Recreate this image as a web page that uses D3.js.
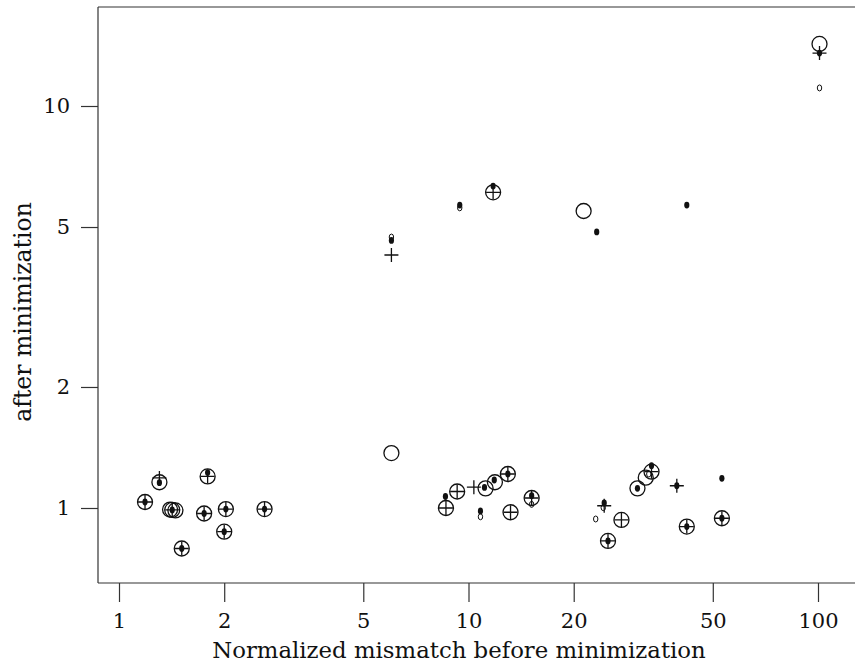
<!DOCTYPE html>
<html>
<head>
<meta charset="utf-8">
<script src="https://cdn.jsdelivr.net/npm/d3@7"></script>
<style>
  body { margin: 0; background: #fff; }
  text { font-family: "DejaVu Serif", serif; fill: #111; }
</style>
</head>
<body>
<div id="chart"></div>
<script>
// x = normalized mismatch before minimization, y = after minimization
let circlePts = [[1.187, 1.035], [1.305, 1.159], [1.40, 0.991], [1.42, 0.989], [1.45, 0.986],
    [1.512, 0.793], [1.752, 0.969], [1.793, 1.198], [2.0, 0.873], [2.022, 0.994], [2.609, 0.994],
    [6.018, 1.37], [8.62, 1.0], [9.28, 1.099], [11.19, 1.119], [11.76, 6.10], [11.90, 1.159],
    [12.96, 1.215], [13.19, 0.976], [15.16, 1.059], [21.35, 5.48], [25.07, 0.828], [27.39, 0.934],
    [30.44, 1.119], [32.15, 1.190], [33.39, 1.231], [42.13, 0.899], [53.09, 0.943], [101.0, 14.27]];

let plusPts = [[1.187, 1.035], [1.305, 1.188], [1.42, 0.989], [1.512, 0.793], [1.752, 0.969],
    [1.793, 1.198], [2.0, 0.873], [2.022, 0.994], [2.609, 0.994], [6.018, 4.26], [8.62, 1.0],
    [9.28, 1.099], [10.36, 1.127], [11.76, 6.10], [12.96, 1.215], [13.19, 0.976], [15.16, 1.059],
    [24.45, 1.013], [25.07, 0.828], [27.39, 0.934], [33.39, 1.231], [39.45, 1.136], [42.13, 0.899],
    [53.09, 0.943], [101.0, 13.54]];

let dotPts = [[1.187, 1.035], [1.305, 1.156], [1.42, 0.989], [1.512, 0.793], [1.752, 0.969],
    [1.793, 1.225], [2.0, 0.873], [2.022, 0.994], [2.609, 0.994], [6.018, 4.63], [8.59, 1.068],
    [9.44, 5.67], [10.82, 0.983], [11.11, 1.125], [11.76, 6.32], [11.85, 1.174], [12.96, 1.215],
    [15.16, 1.073], [23.27, 4.86], [24.45, 1.029], [25.07, 0.828], [30.44, 1.119], [33.39, 1.274],
    [39.45, 1.136], [42.13, 0.899], [42.13, 5.67], [53.09, 1.185], [53.09, 0.943], [101.0, 13.54]];

let ringPts = [[6.018, 4.72], [9.44, 5.58], [10.82, 0.951], [15.16, 1.021], [23.12, 0.939],
    [24.3, 1.002], [32.8, 1.215], [101.0, 11.09]];

let xTicks = [1, 2, 5, 10, 20, 50, 100];
let yTicks = [1, 2, 5, 10];

let width = 855, height = 664;

let svg = d3.select('#chart').append('svg')
    .attr('width', width)
    .attr('height', height);

let x = d3.scaleLog().domain([1, 100]).range([119, 818]);
let y = d3.scaleLog().domain([1, 10]).range([508, 106]);

let plotLeft = 98, plotTop = 7, plotBottom = 583;

// frame: left, top and bottom lines (no right side)
let frame = svg.append('g')
    .attr('stroke', '#333')
    .attr('stroke-width', 1.2);
frame.append('line').attr('x1', plotLeft).attr('x2', plotLeft).attr('y1', plotTop).attr('y2', plotBottom);
frame.append('line').attr('x1', plotLeft).attr('x2', width).attr('y1', plotTop).attr('y2', plotTop);
frame.append('line').attr('x1', plotLeft).attr('x2', width).attr('y1', plotBottom).attr('y2', plotBottom);

let xAxis = svg.append('g')
    .attr('transform', `translate(0,${plotBottom})`)
    .call(d3.axisBottom(x).tickValues(xTicks).tickFormat(d3.format('d'))
        .tickSizeInner(19).tickSizeOuter(0).tickPadding(11));
let yAxis = svg.append('g')
    .attr('transform', `translate(${plotLeft},0)`)
    .call(d3.axisLeft(y).tickValues(yTicks).tickFormat(d3.format('d'))
        .tickSizeInner(17).tickSizeOuter(0).tickPadding(11));

[xAxis, yAxis].forEach(ax => {
    ax.select('.domain').remove();
    ax.selectAll('line').attr('stroke', '#333').attr('stroke-width', 1.2);
    ax.selectAll('text').attr('font-size', 21).attr('font-family', '"DejaVu Serif", serif').attr('fill', '#111');
});

svg.append('text')
    .attr('x', 459).attr('y', 658)
    .attr('text-anchor', 'middle')
    .attr('font-size', 22.8)
    .text('Normalized mismatch before minimization');

svg.append('text')
    .attr('transform', 'translate(31,312) rotate(-90)')
    .attr('text-anchor', 'middle')
    .attr('font-size', 23.5)
    .text('after minimization');

let marks = svg.append('g');

marks.selectAll('circle.big')
    .data(circlePts)
    .enter().append('circle')
    .attr('class', 'big')
    .attr('cx', d => x(d[0]))
    .attr('cy', d => y(d[1]))
    .attr('r', 7.5)
    .attr('fill', 'none')
    .attr('stroke', '#111')
    .attr('stroke-width', 1.3);

marks.selectAll('path.plus')
    .data(plusPts)
    .enter().append('path')
    .attr('class', 'plus')
    .attr('d', d => {
        let cx = x(d[0]), cy = y(d[1]), s = 7;
        return `M${cx - s},${cy}H${cx + s}M${cx},${cy - s}V${cy + s}`;
    })
    .attr('stroke', '#111')
    .attr('stroke-width', 1.3);

marks.selectAll('ellipse.ring')
    .data(ringPts)
    .enter().append('ellipse')
    .attr('class', 'ring')
    .attr('cx', d => x(d[0]))
    .attr('cy', d => y(d[1]))
    .attr('rx', 2.2)
    .attr('ry', 3)
    .attr('fill', 'none')
    .attr('stroke', '#111')
    .attr('stroke-width', 1);

marks.selectAll('ellipse.dot')
    .data(dotPts)
    .enter().append('ellipse')
    .attr('class', 'dot')
    .attr('cx', d => x(d[0]))
    .attr('cy', d => y(d[1]))
    .attr('rx', 2.6)
    .attr('ry', 3.4)
    .attr('fill', '#111');
</script>
</body>
</html>
